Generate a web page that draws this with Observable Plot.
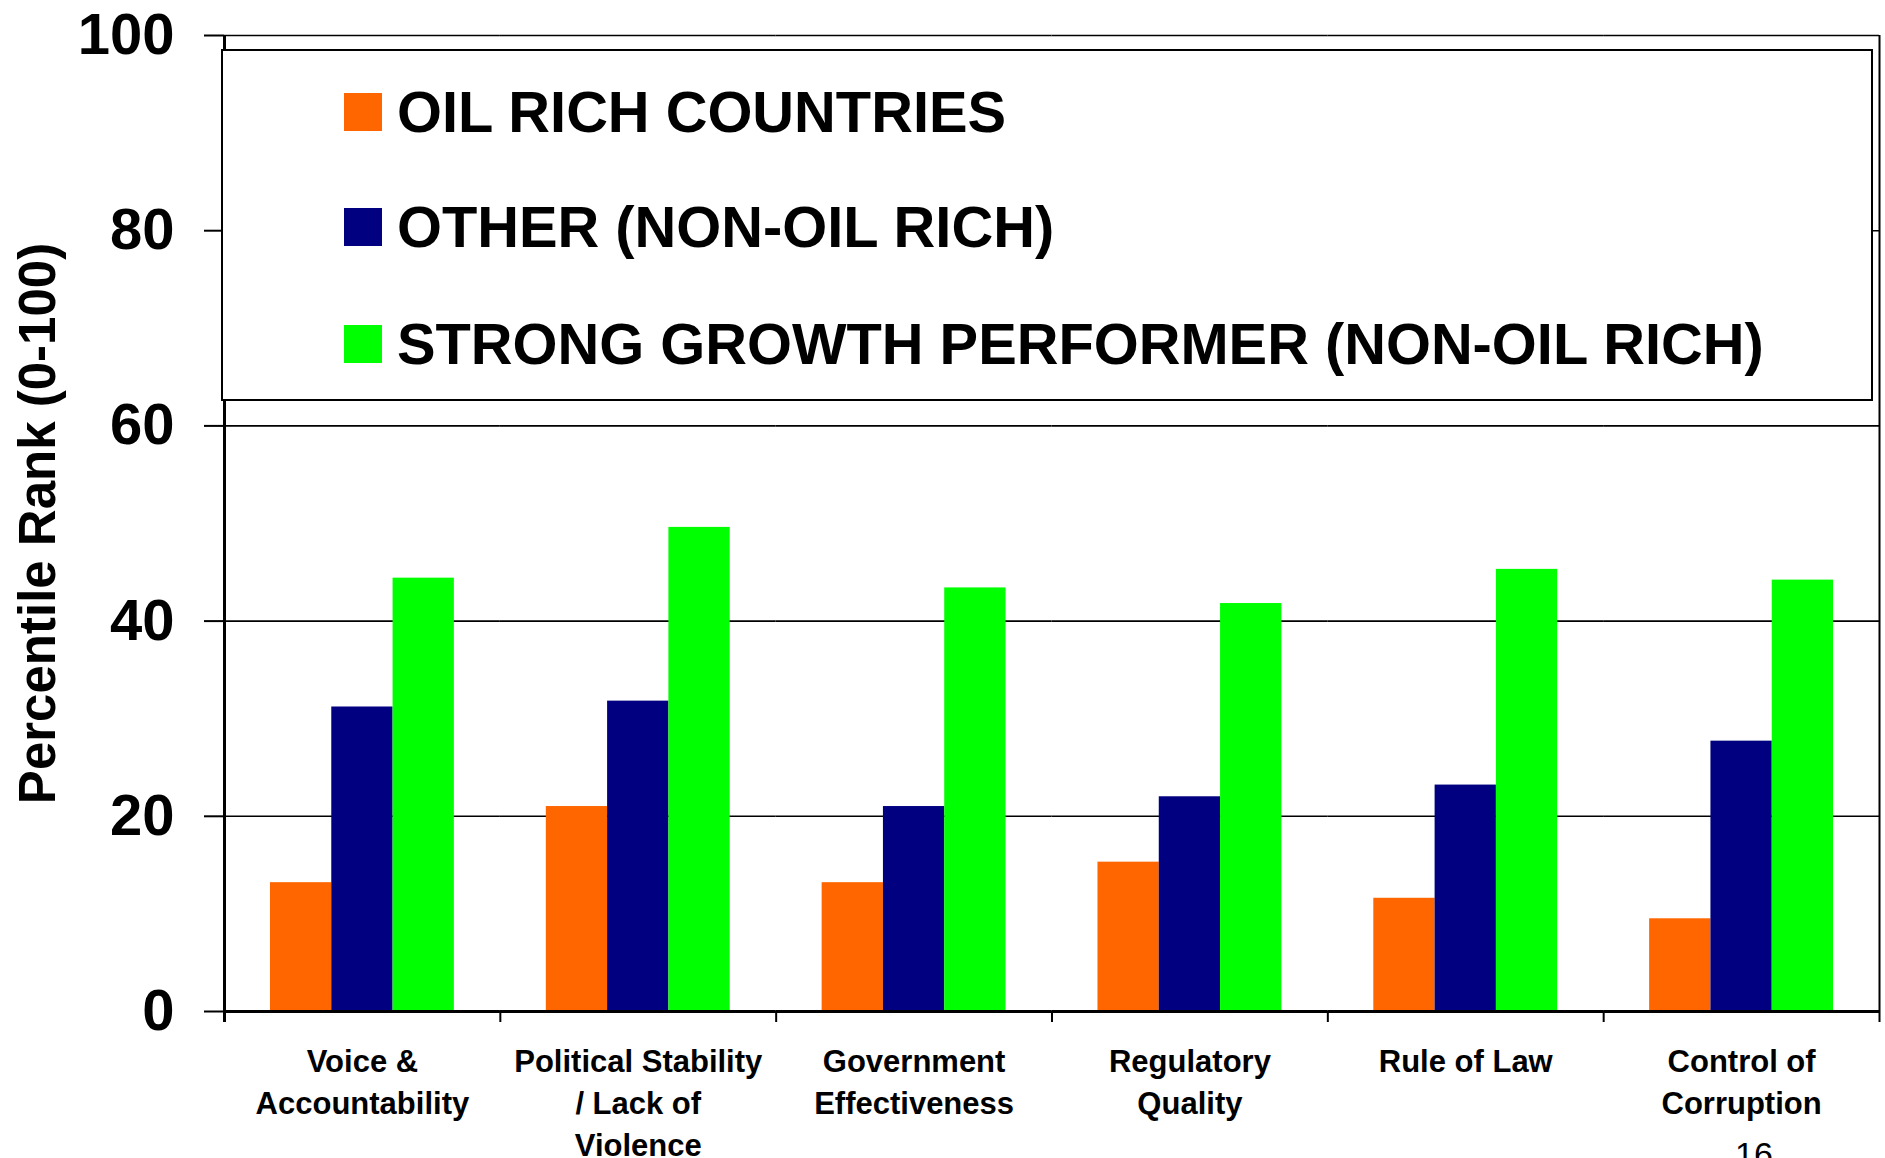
<!DOCTYPE html>
<html>
<head>
<meta charset="utf-8">
<script src="https://cdn.jsdelivr.net/npm/d3@7"></script>
<script src="https://cdn.jsdelivr.net/npm/@observablehq/plot@0.6"></script>
<style>
  html, body { margin: 0; padding: 0; background: white; width: 1885px; height: 1158px; overflow: hidden; }
  #wrap { position: relative; width: 1885px; height: 1158px; font-family: "Liberation Sans", Arial, sans-serif; }
  #legend { position: absolute; left: 221px; top: 49px; width: 1652px; height: 352px; box-sizing: border-box;
            border: 2px solid black; background: white; }
  .row { position: absolute; left: 0; height: 58px; line-height: 58px; font-size: 57.8px; font-weight: bold; white-space: nowrap; }
  .sw { position: absolute; left: 121px; top: 10px; width: 38px; height: 38px; }
  .lbl { position: absolute; left: 174px; top: 0; }
  #page { position: absolute; left: 1735px; top: 1137px; font-size: 34px; line-height: 34px; }
</style>
</head>
<body>
<div id="wrap"></div>
<script>
// ---- data ----
const categories = ["Voice & Accountability", "Political Stability / Lack of Violence", "Government Effectiveness", "Regulatory Quality", "Rule of Law", "Control of Corruption"];
const categoryLabels = ["Voice &\nAccountability", "Political Stability\n/ Lack of\nViolence", "Government\nEffectiveness", "Regulatory\nQuality", "Rule of Law", "Control of\nCorruption"];
const seriesNames = ["OIL RICH COUNTRIES", "OTHER (NON-OIL RICH)", "STRONG GROWTH PERFORMER (NON-OIL RICH)"];
const seriesColors = ["#FF6600", "#000080", "#00FF00"];
const oilRich = [13.2, 21.0, 13.2, 15.3, 11.6, 9.5];
const otherNonOil = [31.2, 31.8, 21.0, 22.0, 23.2, 27.7];
const strongGrowth = [44.4, 49.6, 43.4, 41.8, 45.3, 44.2];
const yTicks = [0, 20, 40, 60, 80, 100];
const yTitle = "Percentile Rank (0-100)";
const pageNumber = "16";

// ---- table ----
const seriesValues = [oilRich, otherNonOil, strongGrowth];
const rows = [];
categories.forEach((c, i) => seriesNames.forEach((s, j) => rows.push({category: c, series: s, value: seriesValues[j][i]})));

// ---- layout ----
const W = 1885, H = 1158, ML = 224, MR = 6, MT = 35, MB = 147;
const innerH = H - MT - MB;
const facetW = (W - ML - MR) / categories.length;
const outerPad = 0.75;
const bw = facetW / (seriesNames.length + 2 * outerPad);
const edge = (outerPad + 0.5) * bw;

const chart = Plot.plot({
  width: W, height: H,
  marginLeft: ML, marginRight: MR, marginTop: MT, marginBottom: MB,
  style: {fontFamily: '"Liberation Sans", Arial, sans-serif', background: "white", color: "black", overflow: "visible"},
  fx: {domain: categories, padding: 0, round: false, axis: null, label: null},
  x: {domain: seriesNames, paddingInner: 0, paddingOuter: outerPad, round: false, axis: null, label: null},
  y: {domain: [0, 100], label: null},
  color: {domain: seriesNames, range: seriesColors},
  marks: [
    Plot.ruleY(yTicks, {stroke: "black", strokeWidth: 1.6}),
    Plot.barY(rows, {fx: "category", x: "series", y: "value", fill: "series"}),
    Plot.ruleY([0], {stroke: "black", strokeWidth: 3}),
    Plot.axisY({ticks: yTicks, tickSize: 20, tickPadding: 30, fontSize: 58, fontWeight: "bold", strokeWidth: 2, label: null, tickFormat: d => String(d)}),
    // y axis line
    Plot.ruleX([categories[0]], {fx: d => d, x: () => seriesNames[0], dx: -edge, stroke: "black", strokeWidth: 3, insetBottom: -11}),
    // right border
    Plot.ruleX([categories[categories.length - 1]], {fx: d => d, x: () => seriesNames[seriesNames.length - 1], dx: edge, stroke: "black", strokeWidth: 2, insetBottom: -11}),
    // category boundary ticks
    Plot.ruleX(categories, {fx: d => d, x: () => seriesNames[0], dx: -edge, stroke: "black", strokeWidth: 2, insetTop: innerH, insetBottom: -11}),
    // category labels
    Plot.text(categories, {fx: d => d, text: (d, i) => categoryLabels[i], frameAnchor: "bottom", lineAnchor: "top", dy: 31, fontSize: 31, lineHeight: 1.35, fontWeight: "bold", fill: "black"}),
    // y title
    Plot.text([yTitle], {fx: () => categories[0], frameAnchor: "left", textAnchor: "middle", dx: -186, rotate: -90, fontSize: 51, fontWeight: "bold", fill: "black"})
  ]
});

const wrap = document.getElementById("wrap");
wrap.appendChild(chart);

// legend overlay
const legend = document.createElement("div");
legend.id = "legend";
const rowCenters = [63, 178, 295];
seriesNames.forEach((s, i) => {
  const r = document.createElement("div");
  r.className = "row";
  r.style.top = (rowCenters[i] - 2 - 29) + "px";
  const sw = document.createElement("div");
  sw.className = "sw";
  sw.style.background = seriesColors[i];
  const lb = document.createElement("div");
  lb.className = "lbl";
  lb.textContent = s;
  r.appendChild(sw); r.appendChild(lb);
  legend.appendChild(r);
});
wrap.appendChild(legend);

const pg = document.createElement("div");
pg.id = "page";
pg.textContent = pageNumber;
wrap.appendChild(pg);
</script>
</body>
</html>
